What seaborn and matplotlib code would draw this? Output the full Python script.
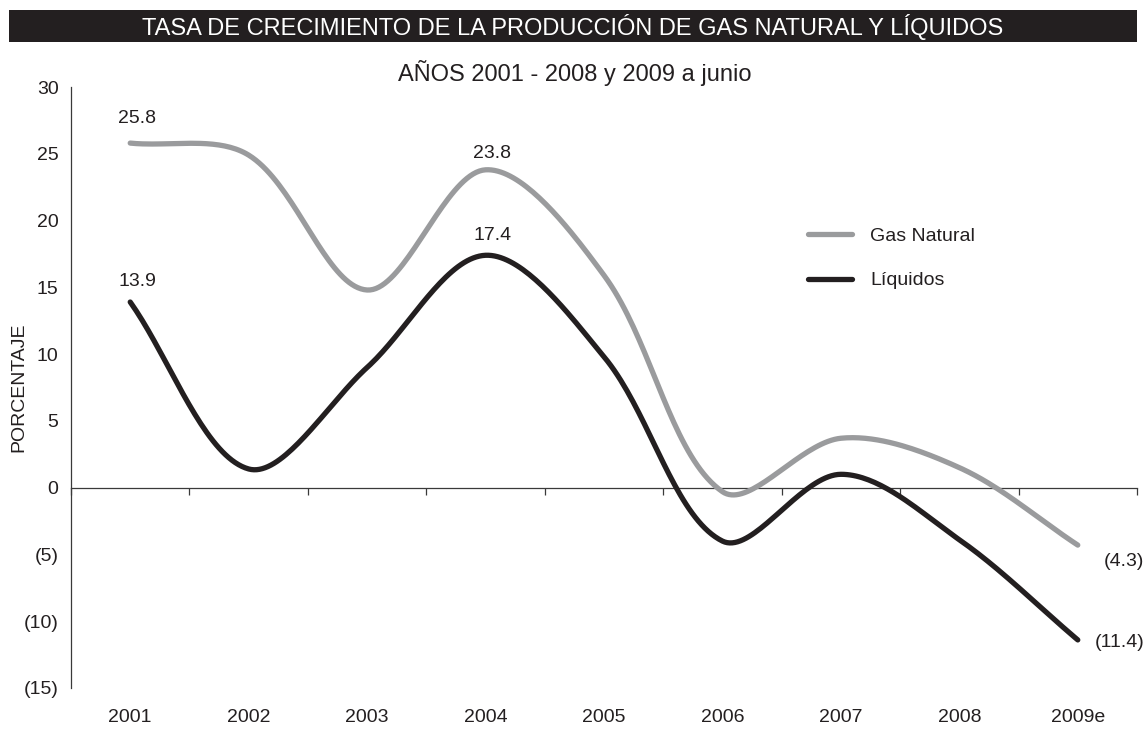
import numpy as np
import pandas as pd
import matplotlib
matplotlib.use("Agg")
import matplotlib.pyplot as plt
import seaborn as sns

# Data (percent growth)
years = ["2001", "2002", "2003", "2004", "2005", "2006", "2007", "2008", "2009e"]
gas_natural = [25.8, 24.9, 14.8, 23.8, 15.9, -0.3, 3.7, 1.5, -4.3]
liquidos = [13.9, 1.4, 9.0, 17.4, 9.8, -4.0, 1.0, -3.9, -11.4]
series_names = ["Gas Natural", "Líquidos"]
y_ticks = [30, 25, 20, 15, 10, 5, 0, -5, -10, -15]

# Screen scale used for the smoothing (pixels per category / per percent)
PX_X, PX_Y = 118.4, 13.37


def fmt(v):
    return f"({abs(v):g})" if v < 0 else f"{v:g}"


def smooth(values, n=40):
    """Bezier smoothing through every point; control arms scaled by chord lengths."""
    p = np.asarray(values, dtype=float)
    x = np.arange(len(p), dtype=float)
    pts = np.column_stack([x, p])
    ext = np.vstack([pts[0], pts, pts[-1]])
    scale = np.array([PX_X, PX_Y])

    def d(a, b):
        return np.hypot(*((b - a) * scale))

    out = []
    t = np.linspace(0, 1, n)[:, None]
    for i in range(len(pts) - 1):
        p0, p1, p2, p3 = ext[i], ext[i + 1], ext[i + 2], ext[i + 3]
        d01, d12, d23 = d(p0, p1), d(p1, p2), d(p2, p3)
        b1 = p1 + (p2 - p0) * (d12 / (d01 + d12)) / 3.0
        b2 = p2 - (p3 - p1) * (d12 / (d12 + d23)) / 3.0
        seg = ((1 - t) ** 3) * p1 + 3 * ((1 - t) ** 2) * t * b1 + 3 * (1 - t) * t ** 2 * b2 + t ** 3 * p2
        out.append(seg if i == 0 else seg[1:])
    seg = np.vstack(out)
    return seg[:, 0], seg[:, 1]


frames = []
for name, vals in zip(series_names, [gas_natural, liquidos]):
    xs, ys = smooth(vals)
    frames.append(pd.DataFrame({"x": xs, "y": ys, "Serie": name}))
df = pd.concat(frames, ignore_index=True)

sns.set_theme(style="white")
plt.rcParams["font.family"] = ["Liberation Sans", "DejaVu Sans"]

FS = 14
INK = "#231f20"
AXC = "#3a3a3a"

fig = plt.figure(figsize=(11.44, 7.29), dpi=100)
ax = fig.add_axes([71 / 1144, 1 - 688 / 729, (1137 - 71) / 1144, (688 - 87) / 729])

palette = {"Gas Natural": "#9a9b9d", "Líquidos": INK}
sns.lineplot(data=df, x="x", y="y", hue="Serie", palette=palette, sort=False,
             linewidth=3.8, ax=ax, estimator=None, solid_capstyle="round")

n = len(years)
ax.set_xlim(-0.5, n - 0.5)
ax.set_ylim(-15, 30)

# Axes styling
for s in ["top", "right", "bottom"]:
    ax.spines[s].set_visible(False)
ax.spines["left"].set_color(AXC)
ax.spines["left"].set_linewidth(0.9)
ax.set_yticks(y_ticks)
ax.set_yticklabels([fmt(v) for v in y_ticks])
ax.tick_params(axis="y", direction="out", length=5, width=0.9, color=AXC,
               labelsize=FS, labelcolor=INK, pad=4)
ax.set_xticks(range(n))
ax.set_xticklabels(years)
ax.tick_params(axis="x", length=0, labelsize=FS, labelcolor=INK, pad=15)
ax.set_xlabel("")
ax.set_ylabel("PORCENTAJE", fontsize=FS, color=INK)
ax.yaxis.set_label_coords((27 - 71) / 1066, 0.5)

# Zero line with category separators
zero = ax.secondary_xaxis(15 / 45)
zero.set_xticks(np.arange(n + 1) - 0.5)
zero.set_xticklabels([])
zero.tick_params(axis="x", direction="out", length=5, width=0.9, color=AXC)
zero.spines["bottom"].set_color(AXC)
zero.spines["bottom"].set_linewidth(0.9)

# Value labels
lab = dict(fontsize=FS, color=INK, textcoords="offset points")
ax.annotate(fmt(gas_natural[0]), (0, gas_natural[0]), xytext=(5, 18), ha="center", va="center", **lab)
ax.annotate(fmt(liquidos[0]), (0, liquidos[0]), xytext=(5, 15), ha="center", va="center", **lab)
ax.annotate(fmt(gas_natural[3]), (3, gas_natural[3]), xytext=(5, 12), ha="center", va="center", **lab)
ax.annotate(fmt(liquidos[3]), (3, liquidos[3]), xytext=(5, 14), ha="center", va="center", **lab)
ax.annotate(fmt(gas_natural[-1]), (n - 1, gas_natural[-1]), xytext=(19, -12), ha="left", va="center", **lab)
ax.annotate(fmt(liquidos[-1]), (n - 1, liquidos[-1]), xytext=(12, -1.5), ha="left", va="center", **lab)

# Legend
leg = ax.legend(loc="upper left", bbox_to_anchor=((808 - 71) / 1066, 1 - (227 - 87) / 601),
                frameon=False, fontsize=FS, handlelength=2.25, handletextpad=0.95,
                labelspacing=1.4, borderpad=0, borderaxespad=0)
for t in leg.get_texts():
    t.set_color(INK)

# Title bar and subtitle
fig.patches.append(plt.Rectangle((9 / 1144, 1 - 42 / 729), (1137 - 9) / 1144, 32 / 729,
                                 transform=fig.transFigure, facecolor=INK, edgecolor="none"))
fig.text(573 / 1144, 1 - 27 / 729, "TASA DE CRECIMIENTO DE LA PRODUCCIÓN DE GAS NATURAL Y LÍQUIDOS",
         ha="center", va="center", color="white", fontsize=17)
fig.text(575 / 1144, 1 - 73 / 729, "AÑOS 2001 - 2008 y 2009 a junio",
         ha="center", va="center", color=INK, fontsize=17)

fig.savefig("out.png", dpi=100)
